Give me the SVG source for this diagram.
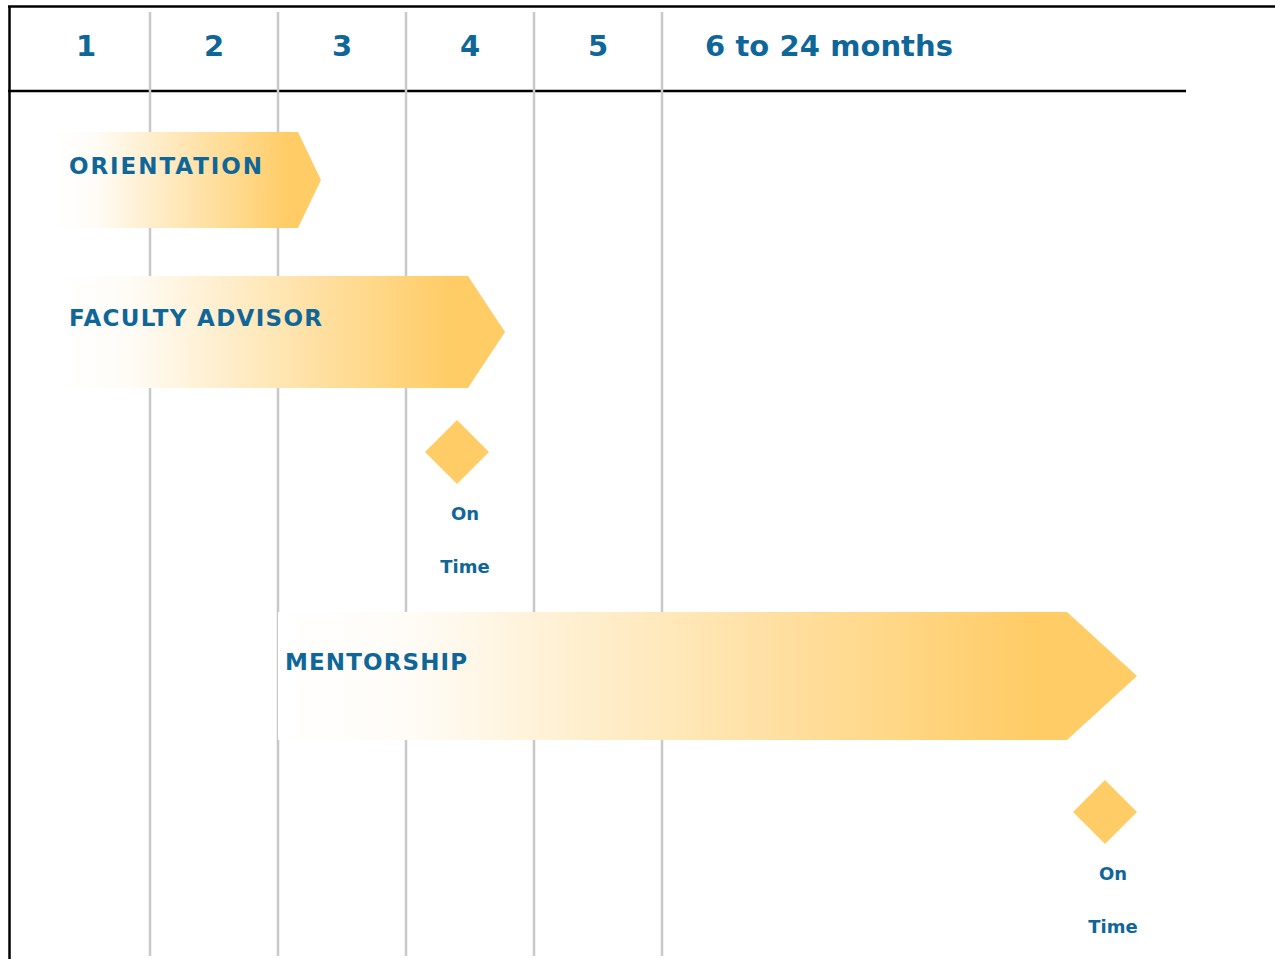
<svg xmlns="http://www.w3.org/2000/svg" width="1275" height="959" viewBox="0 0 1275 959">
<style>
.hdr{font-family:"DejaVu Sans",Verdana,sans-serif;font-weight:bold;font-size:29px;fill:#0F6698}
.lbl{font-family:"DejaVu Sans",Verdana,sans-serif;font-weight:bold;font-size:23px;fill:#0F6698}
.ms{font-family:"DejaVu Sans",Verdana,sans-serif;font-weight:bold;font-size:18px;fill:#0F6698;text-anchor:middle}
.grid{stroke:#C8C8C8;stroke-width:2.5}
.frame{stroke:#000;stroke-width:2.5;fill:none}
.dia{fill:#FFCC66}
</style>
<defs>
<linearGradient id="g" x1="0" y1="0" x2="1" y2="0">
<stop offset="0" stop-color="#FFFFFF"/>
<stop offset="0.15" stop-color="#FFFCF7"/>
<stop offset="0.88" stop-color="#FFCC66"/>
<stop offset="1" stop-color="#FFCC66"/>
</linearGradient>
</defs>
<rect width="1275" height="959" fill="#fff"/>
<g id="frame">
<line class="frame" x1="8" y1="6.5" x2="1275" y2="6.5"/>
<line class="frame" x1="9.5" y1="6" x2="9.5" y2="959"/>
<line class="frame" x1="8" y1="91" x2="1186" y2="91"/>
</g>
<g id="grid">
<line class="grid" x1="150" y1="12" x2="150" y2="956"/>
<line class="grid" x1="278" y1="12" x2="278" y2="956"/>
<line class="grid" x1="406" y1="12" x2="406" y2="956"/>
<line class="grid" x1="534" y1="12" x2="534" y2="956"/>
<line class="grid" x1="662" y1="12" x2="662" y2="956"/>
</g>
<g id="header">
<text class="hdr" x="86" y="56" text-anchor="middle">1</text>
<text class="hdr" x="214" y="56" text-anchor="middle">2</text>
<text class="hdr" x="342" y="56" text-anchor="middle">3</text>
<text class="hdr" x="470" y="56" text-anchor="middle">4</text>
<text class="hdr" x="598" y="56" text-anchor="middle">5</text>
<text class="hdr" x="705" y="56" textLength="248" lengthAdjust="spacing">6 to 24 months</text>
</g>
<g id="orientation">
<polygon points="55,132 298,132 321,180 298,228 55,228" fill="url(#g)"/>
<text class="lbl" x="69" y="174" textLength="193" lengthAdjust="spacing">ORIENTATION</text>
</g>
<g id="faculty-advisor">
<polygon points="62,276 468,276 505,332 468,388 62,388" fill="url(#g)"/>
<text class="lbl" x="69" y="326" textLength="253" lengthAdjust="spacing">FACULTY ADVISOR</text>
</g>
<g id="milestone-1">
<polygon class="dia" points="457,420 489,452 457,484 425,452"/>
<text class="ms" x="465" y="520">On</text>
<text class="ms" x="465" y="573">Time</text>
</g>
<g id="mentorship">
<polygon points="278,612 1067,612 1137,676 1067,740 278,740" fill="url(#g)"/>
<text class="lbl" x="285" y="670" textLength="182" lengthAdjust="spacing">MENTORSHIP</text>
</g>
<g id="milestone-2">
<polygon class="dia" points="1105,780 1137,812 1105,844 1073,812"/>
<text class="ms" x="1113" y="880">On</text>
<text class="ms" x="1113" y="933">Time</text>
</g>
<g id="connectors"></g>
</svg>
